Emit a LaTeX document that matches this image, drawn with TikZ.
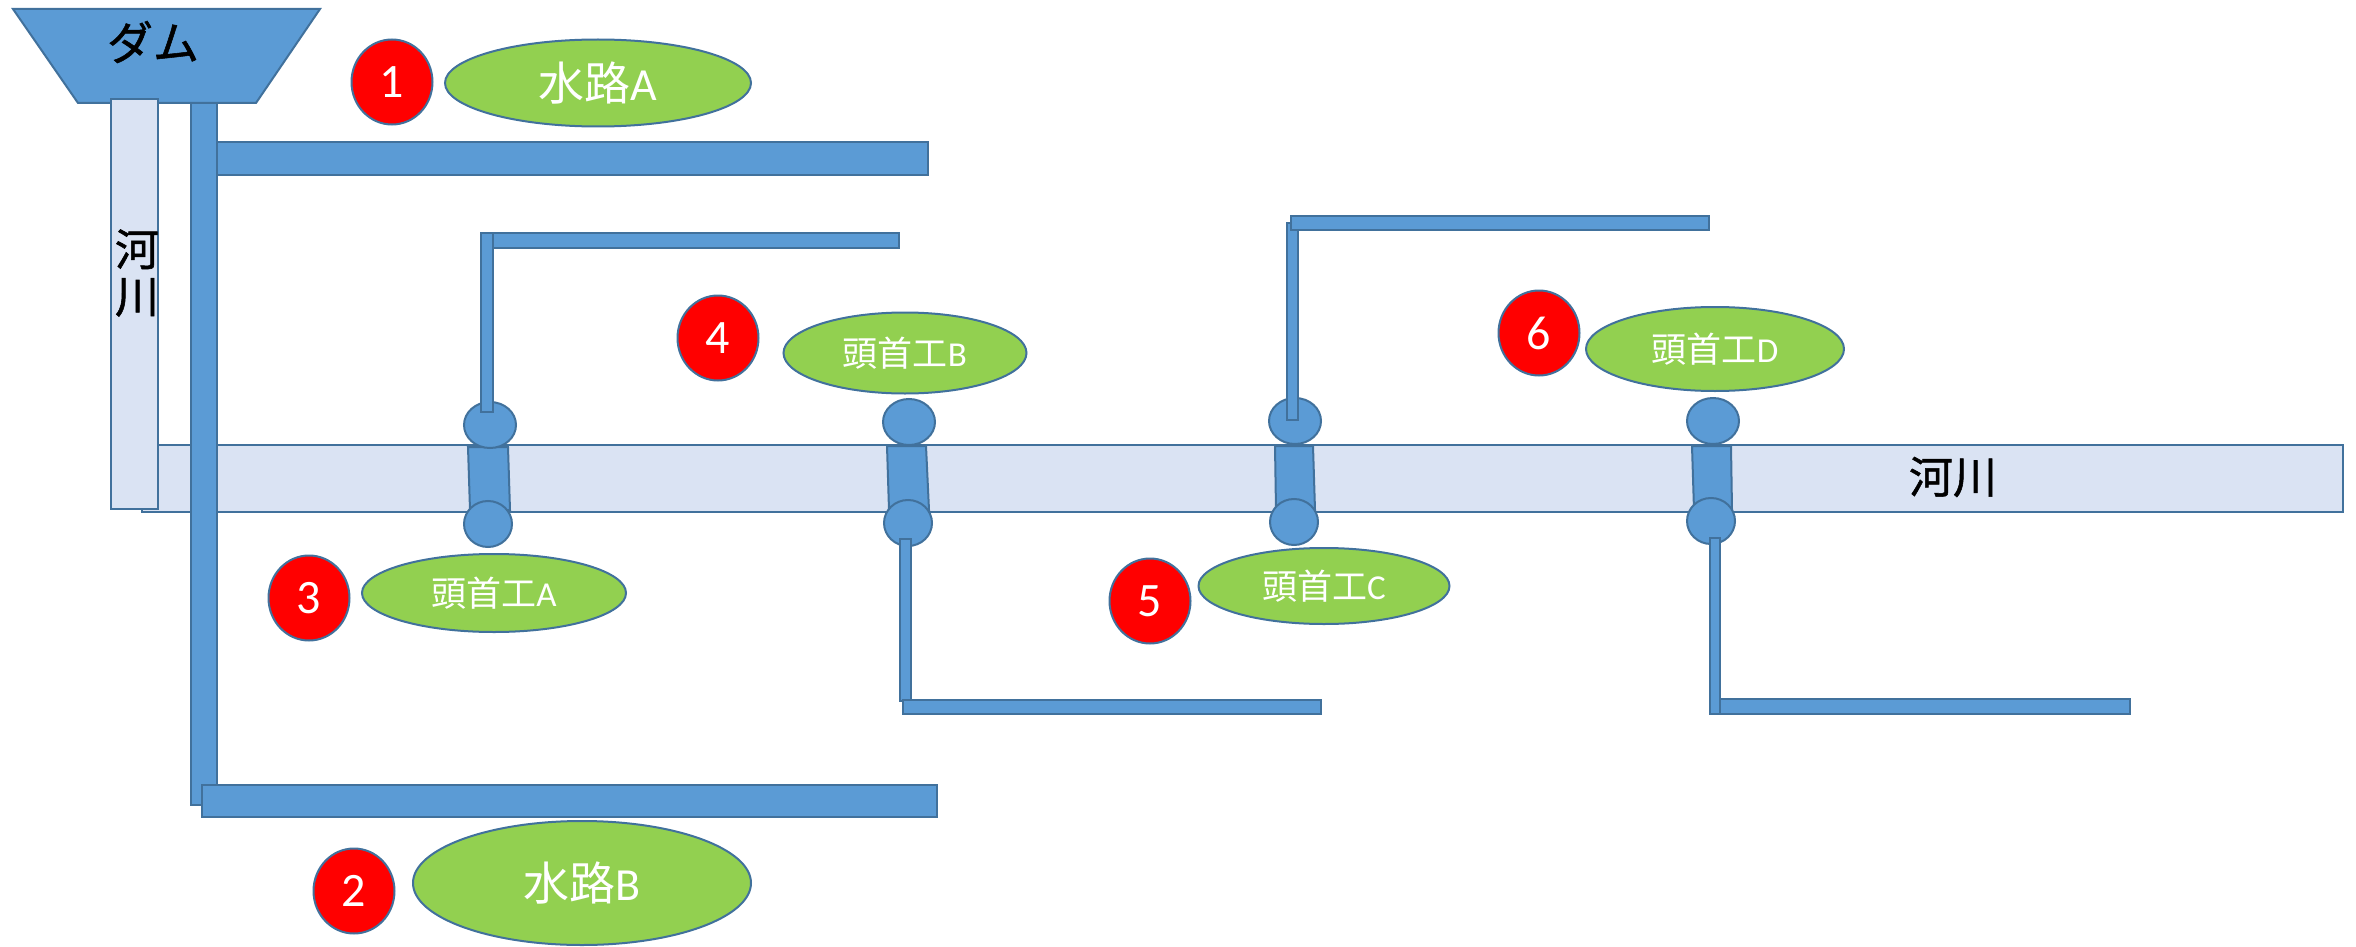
\documentclass[tikz,border=0pt]{standalone}
\usepackage{fontspec}
\setmainfont{Carlito}
\newfontfamily\jp{Noto Sans CJK JP}
\newfontfamily\jpk{Noto Sans CJK JP}[FakeBold=1.2]
\usetikzlibrary{shapes.geometric}
\definecolor{cblue}{HTML}{5B9BD5}
\definecolor{cline}{HTML}{41719C}
\definecolor{criver}{HTML}{DAE3F3}
\definecolor{cgreen}{HTML}{92D050}
\definecolor{cred}{HTML}{FF0000}
\begin{document}
\begin{tikzpicture}[x=1pt,y=-1pt,
  canal/.style={fill=cblue,draw=cline,line width=2pt},
  thincanal/.style={fill=cblue,draw=cline,line width=1.6pt},
  river/.style={fill=criver,draw=cline,line width=2pt},
  numdot/.style={ellipse,fill=cred,draw=cline,line width=2pt,minimum width=81pt,minimum height=85pt,inner sep=0pt,text=white,font=\fontsize{48}{48}\selectfont},
  tagbox/.style={ellipse,fill=cgreen,draw=cline,line width=2pt,inner sep=0pt,text=white},
  gate/.style={ellipse,fill=cblue,draw=cline,line width=2pt,inner sep=0pt,minimum width=52pt,minimum height=46pt},
  gatelow/.style={gate,minimum width=48pt},
  bigtxt/.style={font=\fontsize{46}{46}\selectfont},
  midtxt/.style={font=\fontsize{35}{35}\selectfont}]
\useasboundingbox (0,0) rectangle (2356,947);

% horizontal river
\draw[river] (142,445) rectangle (2343,512);
\node[font=\jpk\fontsize{44}{44}\selectfont] (riverH) at (1953,477) {河川};

% dam
\draw[canal] (13,9) -- (320,9) -- (256,103) -- (78,103) -- cycle;
\node[font=\jpk\fontsize{46}{46}\selectfont] (dam) at (153,42) {ダム};

% vertical river
\draw[river] (111,99) rectangle (158,509);
\node[font=\jpk\fontsize{44}{47}\selectfont,align=center,inner sep=0pt] (riverV) at (137,273) {河\\川};

% main canal
\draw[canal] (191,103) rectangle (217,805);
\draw[canal] (217,142) rectangle (928,175);
\draw[canal] (202,785) rectangle (937,817);

% headworks A
\draw[canal] (468,447) -- (508,447) -- (510,510) -- (470,510) -- cycle;
\node[gate] (gA1) at (490,425) {};
\node[gatelow] (gA2) at (488,524) {};
% headworks B
\draw[canal] (887,446) -- (926,446) -- (929,510) -- (889,510) -- cycle;
\node[gate] (gB1) at (909,422) {};
\node[gatelow] (gB2) at (908,523) {};
% headworks C
\draw[canal] (1275,446) -- (1313,446) -- (1315,510) -- (1276,510) -- cycle;
\node[gate] (gC1) at (1295,421) {};
\node[gatelow] (gC2) at (1294,522) {};
% headworks D
\draw[canal] (1692,446) -- (1731,446) -- (1732,510) -- (1694,510) -- cycle;
\node[gate] (gD1) at (1713,421) {};
\node[gatelow] (gD2) at (1711,521) {};

% branch canals
\draw[thincanal] (481,233) rectangle (493,412);
\draw[thincanal] (493,233) rectangle (899,248);
\draw[thincanal] (900,539) rectangle (911,701);
\draw[thincanal] (903,700) rectangle (1321,714);
\draw[thincanal] (1287,223) rectangle (1298,420);
\draw[thincanal] (1291,216) rectangle (1709,230);
\draw[thincanal] (1710,538) rectangle (1720,714);
\draw[thincanal] (1720,699) rectangle (2130,714);

% labels
\node[numdot] (n1) at (392,82) {1};
\node[tagbox,minimum width=306pt,minimum height=87pt,bigtxt] (wA) at (598,83) {{\jp 水路}A};
\node[numdot] (n2) at (354,891) {2};
\node[tagbox,minimum width=338pt,minimum height=124pt,bigtxt] (wB) at (582,883) {{\jp 水路}B};
\node[numdot] (n3) at (309,598) {3};
\node[tagbox,minimum width=264pt,minimum height=78pt,midtxt] (hA) at (494,593) {{\jp 頭首工}A};
\node[numdot] (n4) at (718,338) {4};
\node[tagbox,minimum width=243pt,minimum height=81pt,midtxt] (hB) at (905,353) {{\jp 頭首工}B};
\node[numdot] (n5) at (1150,601) {5};
\node[tagbox,minimum width=251pt,minimum height=76pt,midtxt] (hC) at (1324,586) {{\jp 頭首工}C};
\node[numdot] (n6) at (1539,333) {6};
\node[tagbox,minimum width=258pt,minimum height=84pt,midtxt] (hD) at (1715,349) {{\jp 頭首工}D};
\end{tikzpicture}
\end{document}
